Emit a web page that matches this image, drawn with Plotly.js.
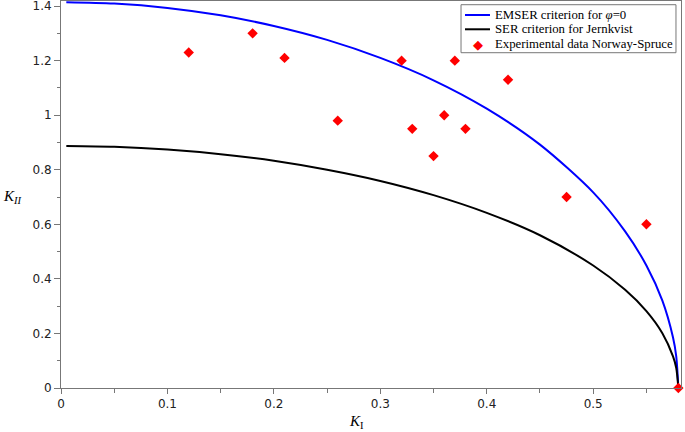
<!DOCTYPE html>
<html>
<head>
<meta charset="utf-8">
<script src="https://cdn.plot.ly/plotly-3.0.1.min.js"></script>
<style>
  html, body { margin: 0; padding: 0; background: #fff; }
  #chart { width: 685px; height: 432px; }
</style>
</head>
<body>
<div id="chart"></div>
<script>
// curve points
var curve_k1 = [0.005, 0.05, 0.1, 0.15, 0.2, 0.25, 0.3, 0.35, 0.4, 0.45, 0.5, 0.53, 0.55, 0.565, 0.575, 0.578, 0.58];
var emser_k2 = [1.414, 1.409, 1.393, 1.366, 1.327, 1.276, 1.210, 1.128, 1.024, 0.892, 0.717, 0.574, 0.449, 0.320, 0.185, 0.117, 0];
var ser_k2 = [0.887, 0.884, 0.874, 0.857, 0.833, 0.800, 0.759, 0.707, 0.642, 0.560, 0.449, 0.360, 0.282, 0.201, 0.116, 0.074, 0];

// experimental data (Norway spruce)
var exp_k1 = [0.12, 0.18, 0.21, 0.26, 0.32, 0.33, 0.35, 0.36, 0.37, 0.38, 0.42, 0.475, 0.55, 0.58];
var exp_k2 = [1.23, 1.30, 1.21, 0.98, 1.20, 0.95, 0.85, 1.00, 1.20, 0.95, 1.13, 0.70, 0.60, 0];

var x_ticks = [0, 0.1, 0.2, 0.3, 0.4, 0.5];
var y_ticks = [0, 0.2, 0.4, 0.6, 0.8, 1, 1.2, 1.4];

var legend_names = ["EMSER criterion for <i>\u03c6</i>=0", "SER criterion for Jernkvist", "Experimental data Norway-Spruce"];

function init_plot() {
    var graph_div = document.getElementById("chart");

    var emser = {
        type: "scatter",
        mode: "lines",
        name: legend_names[0],
        x: curve_k1,
        y: emser_k2,
        line: {color: "#0000ff", width: 2, shape: "spline", smoothing: 0.8}
    };

    var ser = {
        type: "scatter",
        mode: "lines",
        name: legend_names[1],
        x: curve_k1,
        y: ser_k2,
        line: {color: "#000000", width: 2, shape: "spline", smoothing: 0.8}
    };

    var exper = {
        type: "scatter",
        mode: "markers",
        name: legend_names[2],
        x: exp_k1,
        y: exp_k2,
        cliponaxis: false,
        marker: {symbol: "diamond", color: "#ff0000", size: 8}
    };

    var tick_font = {family: "DejaVu Sans", size: 12, color: "#222"};
    var serif = "Liberation Serif";

    // compact legend drawn by hand (plotly's own rows are too tall)
    var leg_rows = [0.9638, 0.9269, 0.8881];
    var shapes = [
        {type: "rect", xref: "paper", yref: "paper", x0: 0.6452, x1: 0.9919, y0: 0.8664, y1: 0.9904,
         line: {color: "#777", width: 1}, fillcolor: "#fff", layer: "above"},
        {type: "line", xref: "paper", yref: "paper", x0: 0.6516, x1: 0.6919, y0: leg_rows[0], y1: leg_rows[0],
         line: {color: "#0000ff", width: 2}, layer: "above"},
        {type: "line", xref: "paper", yref: "paper", x0: 0.6516, x1: 0.6919, y0: leg_rows[1], y1: leg_rows[1],
         line: {color: "#000000", width: 2}, layer: "above"}
    ];

    var annotations = [
        {
            text: "<i>K</i><sub>I</sub>",
            xref: "paper", yref: "paper", x: 0.477, y: -0.088,
            xanchor: "center", yanchor: "middle", showarrow: false,
            font: {family: serif, size: 15, color: "#000"}
        },
        {
            text: "<i>K</i><sub><i>II</i></sub>",
            xref: "paper", yref: "paper", x: -0.097, y: 0.494,
            xanchor: "left", yanchor: "middle", showarrow: false,
            font: {family: serif, size: 15, color: "#000"}
        },
        {
            text: "\u25c6",
            xref: "paper", yref: "paper", x: 0.6721, y: leg_rows[2],
            xanchor: "center", yanchor: "middle", showarrow: false,
            font: {family: "DejaVu Sans", size: 13, color: "#ff0000"}
        }
    ];
    for (let i = 0; i < legend_names.length; i++) {
        annotations.push({
            text: legend_names[i],
            xref: "paper", yref: "paper", x: 0.6975, y: leg_rows[i],
            xanchor: "left", yanchor: "middle", showarrow: false,
            font: {family: serif, size: 12.8, color: "#000"}
        });
    }

    var layout = {
        width: 685,
        height: 432,
        margin: {l: 61, r: 4, t: 1, b: 44},
        paper_bgcolor: "#fff",
        plot_bgcolor: "#fff",
        showlegend: false,
        xaxis: {
            range: [0, 0.5825],
            tickvals: x_ticks,
            ticktext: ["0", "0.1", "0.2", "0.3", "0.4", "0.5"],
            ticks: "outside", ticklen: 5, tickcolor: "#777",
            minor: {dtick: 0.05, ticks: "outside", ticklen: 4, tickcolor: "#777"},
            showline: true, linecolor: "#777", linewidth: 1, mirror: true,
            showgrid: false, zeroline: false,
            ticklabeloverflow: "allow",
            tickfont: tick_font
        },
        yaxis: {
            range: [0, 1.4186],
            tickvals: y_ticks,
            ticktext: ["0", "0.2", "0.4", "0.6", "0.8", "1", "1.2", "1.4"],
            ticks: "outside", ticklen: 6, tickcolor: "#777",
            minor: {dtick: 0.1, ticks: "outside", ticklen: 3, tickcolor: "#777"},
            showline: true, linecolor: "#777", linewidth: 1, mirror: true,
            showgrid: false, zeroline: false,
            ticklabeloverflow: "allow",
            tickfont: tick_font
        },
        shapes: shapes,
        annotations: annotations
    };

    var settings = {staticPlot: true};

    Plotly.newPlot(graph_div, [emser, ser, exper], layout, settings);
}

init_plot();
</script>
</body>
</html>
